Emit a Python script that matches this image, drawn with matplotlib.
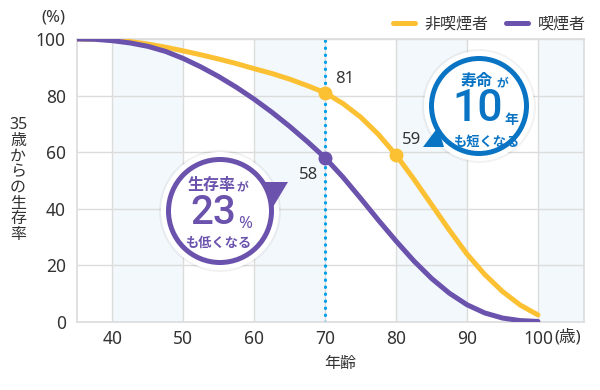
import matplotlib
matplotlib.use("Agg")
import matplotlib.pyplot as plt
from matplotlib.patches import Circle, Polygon

plt.rcParams['font.family'] = ['Noto Sans', 'Noto Sans CJK JP', 'DejaVu Sans']

# ages (every 2.5 years)
ages = [35, 37.5, 40, 42.5, 45, 47.5, 50, 52.5, 55, 57.5, 60, 62.5, 65, 67.5,
        70, 72.5, 75, 77.5, 80, 82.5, 85, 87.5, 90, 92.5, 95, 97.5, 100]
nonsmoker = [100, 99.95, 99.7, 99.1, 98.2, 97.1, 95.8, 94.4, 92.9, 91.3, 89.5, 87.8, 85.8, 83.5,
             81, 77.2, 72.4, 66.3, 59, 50.5, 41.5, 32.5, 24, 16.8, 10.8, 6, 2.5]
smoker = [100, 99.9, 99.4, 98.6, 97.4, 95.6, 93.1, 90.1, 86.7, 82.9, 78.7, 74.1, 69.1, 63.7,
          58, 51.2, 43.7, 36, 28.6, 21.6, 15.4, 10.2, 6.1, 3.2, 1.4, 0.5, 0.2]

series_labels = ["非喫煙者", "喫煙者"]
nonsmoker_mark_ages = [70, 80]
nonsmoker_marks = [81, 59]
smoker_mark_ages = [70]
smoker_marks = [58]

x_ticks = [40, 50, 60, 70, 80, 90, 100]
y_ticks = [0, 20, 40, 60, 80, 100]
band_starts = [40, 60, 80, 100]

yellow = "#fcc033"
purple = "#6a52ad"
blue = "#0a74c4"
text_col = "#333333"
grid_col = "#dcdcdc"

fig = plt.figure(figsize=(6, 3.9), dpi=100)
ax = fig.add_axes([77 / 600, 68 / 390, 507 / 600, 283 / 390])

for s in band_starts:
    ax.axvspan(s, s + 10, color="#f2f8fc", zorder=0, lw=0)

ax.set_xlim(35, 106.5)
ax.set_ylim(0, 100)
ax.set_xticks(x_ticks)
ax.set_yticks(y_ticks)
ax.grid(True, color=grid_col, lw=1, zorder=1)
ax.set_axisbelow(True)
for sp in ax.spines.values():
    sp.set_color(grid_col)
    sp.set_linewidth(1.2)
ax.tick_params(length=0, labelsize=12.5, colors=text_col)
ax.tick_params(axis="y", pad=8)
ax.tick_params(axis="x", pad=6)

ax.axvline(70, color="#00a0e9", lw=2.3, linestyle=(0, (0.1, 2.1)),
           dash_capstyle="round", zorder=2)

l1, = ax.plot(ages, nonsmoker, color=yellow, lw=3.6, solid_capstyle="round",
              solid_joinstyle="round", zorder=3, label=series_labels[0])
l2, = ax.plot(ages, smoker, color=purple, lw=3.6, solid_capstyle="round",
              solid_joinstyle="round", zorder=3, label=series_labels[1])
ax.plot(nonsmoker_mark_ages, nonsmoker_marks, "o", color=yellow, ms=9, zorder=4)
ax.plot(smoker_mark_ages, smoker_marks, "o", color=purple, ms=9, zorder=4)

offsets = [(14, 10), (11, 11)]
for a, v, off in zip(nonsmoker_mark_ages, nonsmoker_marks, offsets):
    ax.annotate(str(v), (a, v), xytext=off, textcoords="offset points",
                ha="center", va="center", fontsize=12, color=text_col)
for a, v in zip(smoker_mark_ages, smoker_marks):
    ax.annotate(str(v), (a, v), xytext=(-12, -12), textcoords="offset points",
                ha="center", va="center", fontsize=12, color=text_col)

leg = fig.legend(handles=[l1, l2], loc="center right",
                 bbox_to_anchor=(586 / 600, 1 - 25 / 390), ncol=2, frameon=False,
                 fontsize=11.5, handlelength=1.4, columnspacing=1.1, handletextpad=0.6,
                 borderaxespad=0, borderpad=0)
for t in leg.get_texts():
    t.set_color(text_col)

# overlay axes in pixel units for texts and callouts
ov = fig.add_axes([0, 0, 1, 1], zorder=10)
ov.set_xlim(0, 600)
ov.set_ylim(390, 0)
ov.axis("off")

ov.text(53, 17, "(%)", ha="center", va="center", fontsize=12, color=text_col)
ov.text(554, 337, "(歳)", ha="left", va="center", fontsize=12, color=text_col)
ov.text(340, 364, "年齢", ha="center", va="center", fontsize=11.5, color=text_col)
ov.text(18, 180, "35\n歳\nか\nら\nの\n生\n存\n率", ha="center", va="center",
        fontsize=11.5, color=text_col, linespacing=0.98)


def bubble(cx, cy, r, tri, col):
    ov.add_patch(Circle((cx, cy), r + 7, color="#000000", alpha=0.05, lw=0))
    ov.add_patch(Circle((cx, cy), r + 5, color="white", lw=0))
    ov.add_patch(Circle((cx, cy), r, color=col, lw=0))
    ov.add_patch(Polygon(tri, closed=True, color=col, lw=0))
    ov.add_patch(Circle((cx, cy), r - 5, color="white", lw=0))


bubble(479, 106, 50, [(423, 147), (444, 147), (438, 127)], blue)
bubble(220, 211, 54, [(288, 182), (263, 182), (273, 207)], purple)

bold = dict(family=["Noto Sans CJK JP"], weight="bold")
num = dict(family=["Roboto"], weight="medium")
ov.text(477, 81, "寿命", ha="center", va="center", fontsize=11.5, color=blue, **bold)
ov.text(496, 83, "が", ha="left", va="center", fontsize=8.5, color=blue, **bold)
ov.text(478, 109, "10", ha="center", va="center", fontsize=32, color=blue, **num)
ov.text(504, 120, "年", ha="left", va="center", fontsize=10, color=blue, **bold)
ov.text(487, 142, "も短くなる", ha="center", va="center", fontsize=9.5, color=blue, **bold)

ov.text(212, 185, "生存率", ha="center", va="center", fontsize=11.5, color=purple, **bold)
ov.text(236, 187, "が", ha="left", va="center", fontsize=8.5, color=purple, **bold)
ov.text(213, 213, "23", ha="center", va="center", fontsize=29, color=purple, **num)
ov.text(238, 224, "%", ha="left", va="center", fontsize=12, color=purple, weight="bold")
ov.text(219, 243, "も低くなる", ha="center", va="center", fontsize=9.5, color=purple, **bold)

fig.savefig("out.png", dpi=100)
